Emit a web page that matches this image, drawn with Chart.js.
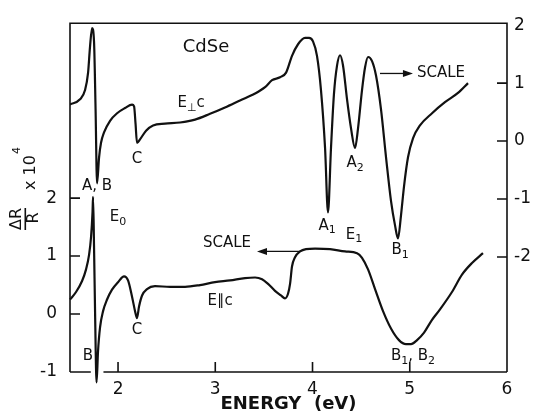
<!DOCTYPE html>
<html>
<head>
<meta charset="utf-8">
<title>CdSe ΔR/R</title>
<script src="https://cdn.jsdelivr.net/npm/chart.js@4.4.1/dist/chart.umd.min.js"></script>
<style>
  html, body { margin: 0; padding: 0; background: #fff; }
  #wrap { width: 533px; height: 417px; }
</style>
</head>
<body>
<div id="wrap"><canvas id="chart" width="533" height="417"></canvas></div>
<script>
'use strict';

// ─── Data: E ⊥ c spectrum (right-hand scale) ─────────────────────────────────
const energyPerp = [1.506, 1.609, 1.661, 1.692, 1.712, 1.733, 1.753, 1.769, 1.784, 1.805,
    1.825, 1.856, 1.918, 1.99, 2.072, 2.144, 2.165, 2.18, 2.195, 2.226,
    2.288, 2.36, 2.483, 2.638, 2.792, 2.946, 3.10, 3.254, 3.409, 3.512,
    3.584, 3.666, 3.728, 3.789, 3.851, 3.923, 3.964, 4.005, 4.046, 4.087,
    4.129, 4.159, 4.19, 4.22, 4.252, 4.283, 4.314, 4.355, 4.396, 4.437,
    4.468, 4.509, 4.54, 4.571, 4.612, 4.653, 4.704, 4.756, 4.807, 4.848,
    4.879, 4.91, 4.941, 4.982, 5.034, 5.105, 5.229, 5.362, 5.496, 5.599];
const signalPerp = [0.63, 0.72, 0.88, 1.18, 1.63, 1.95, 1.72, 0.55, -0.73, -0.28,
    -0.03, 0.15, 0.35, 0.48, 0.57, 0.63, 0.60, 0.30, -0.03, 0.03,
    0.18, 0.27, 0.30, 0.32, 0.37, 0.47, 0.58, 0.70, 0.82, 0.93,
    1.05, 1.10, 1.18, 1.47, 1.67, 1.78, 1.78, 1.72, 1.47, 0.88,
    -0.12, -1.23, -0.12, 0.80, 1.30, 1.48, 1.30, 0.72, 0.22, -0.12,
    0.22, 0.88, 1.27, 1.45, 1.38, 1.13, 0.55, -0.28, -1.03, -1.45,
    -1.68, -1.28, -0.78, -0.28, 0.05, 0.27, 0.48, 0.67, 0.83, 1.00];

// ─── Data: E ∥ c spectrum (left-hand scale) ──────────────────────────────────
const energyPar = [1.506, 1.568, 1.63, 1.671, 1.702, 1.722, 1.738, 1.743, 1.753, 1.764,
    1.779, 1.794, 1.815, 1.846, 1.887, 1.938, 2.0, 2.062, 2.103, 2.144,
    2.175, 2.195, 2.216, 2.247, 2.298, 2.38, 2.535, 2.689, 2.843, 2.997,
    3.152, 3.306, 3.409, 3.481, 3.543, 3.614, 3.676, 3.717, 3.748, 3.769,
    3.789, 3.82, 3.872, 3.933, 4.026, 4.18, 4.334, 4.458, 4.509, 4.571,
    4.643, 4.725, 4.807, 4.889, 4.961, 5.013, 5.075, 5.147, 5.229, 5.311,
    5.434, 5.537, 5.64, 5.753];
const signalPar = [0.25, 0.38, 0.57, 0.77, 1.02, 1.32, 1.77, 2.02, 1.18, 0.02,
    -1.18, -0.65, -0.23, 0.05, 0.25, 0.42, 0.55, 0.65, 0.58, 0.30,
    0.05, -0.07, 0.13, 0.32, 0.43, 0.48, 0.47, 0.47, 0.50, 0.55,
    0.58, 0.62, 0.63, 0.60, 0.52, 0.40, 0.32, 0.27, 0.35, 0.52,
    0.82, 0.98, 1.08, 1.12, 1.13, 1.12, 1.08, 1.05, 0.97, 0.77,
    0.43, 0.05, -0.25, -0.45, -0.52, -0.52, -0.45, -0.32, -0.10, 0.08,
    0.38, 0.68, 0.88, 1.05];

// ─── Ticks ───────────────────────────────────────────────────────────────────
const energyTicks = [2, 3, 4, 5, 6];
const leftTicks = [-1, 0, 1, 2];
const rightTicks = [2, 1, 0, -1, -2];

// ─── Layout / styles ─────────────────────────────────────────────────────────
const INK = '#111';
const FONT = "'DejaVu Sans', sans-serif";
const BOX = { left: 70, right: 533 - 507, top: 11, bottom: 417 - 372 };
const X_RANGE = [1.506, 6.0];
const LEFT_RANGE = [-1, 5.017];
const RIGHT_RANGE = [-3.983, 2.033];
const AXIS_BREAK = [1.72, 1.85];   // gap in the energy axis where the B dip crosses it
const TICK = 10;

// Annotations, positioned in (eV, left-scale) units. "_" subscripts the next char.
const LABELS = [
    { t: 'CdSe', x: 2.905, y: 4.6, size: 18 },
    { t: 'E_⊥c', x: 2.751, y: 3.63 },
    { t: 'C', x: 2.195, y: 2.68 },
    { t: 'A, B', x: 1.784, y: 2.2 },
    { t: 'E_0', x: 2.0, y: 1.67 },
    { t: 'SCALE', x: 3.121, y: 1.22 },
    { t: 'E∥c', x: 3.049, y: 0.23 },
    { t: 'C', x: 2.195, y: -0.27 },
    { t: 'B', x: 1.691, y: -0.73 },
    { t: 'A_1', x: 4.149, y: 1.52 },
    { t: 'E_1', x: 4.427, y: 1.37 },
    { t: 'B_1', x: 4.90, y: 1.1 },
    { t: 'A_2', x: 4.437, y: 2.6 },
    { t: 'SCALE', x: 5.321, y: 4.15 },
    { t: 'B_1, B_2', x: 5.033, y: -0.73 },
];
const ARROWS = [
    { from: [4.694, 4.15], to: [5.033, 4.15] },
    { from: [3.871, 1.08], to: [3.429, 1.08] },
];

const toPoints = (xs, ys) => xs.map((x, i) => ({ x, y: ys[i] }));

// ─── Drawing helpers ─────────────────────────────────────────────────────────
function drawRich(ctx, text, cx, cy, size) {
    const parts = [];
    for (let i = 0; i < text.length; i++) {
        if (text[i] === '_') { parts.push({ c: text[i + 1], sub: true }); i++; }
        else parts.push({ c: text[i], sub: false });
    }
    const subSize = Math.round(size * 0.72);
    const widthOf = p => { ctx.font = `${p.sub ? subSize : size}px ${FONT}`; return ctx.measureText(p.c).width; };
    const total = parts.reduce((s, p) => s + widthOf(p), 0);
    let x = cx - total / 2;
    ctx.textAlign = 'left';
    ctx.textBaseline = 'middle';
    parts.forEach(p => {
        const w = widthOf(p);
        ctx.fillText(p.c, x, p.sub ? cy + size * 0.3 : cy);
        x += w;
    });
}

function drawArrow(ctx, x1, y1, x2, y2) {
    const dir = Math.sign(x2 - x1);
    ctx.beginPath();
    ctx.moveTo(x1, y1);
    ctx.lineTo(x2 - dir * 8, y2);
    ctx.stroke();
    ctx.beginPath();
    ctx.moveTo(x2, y2);
    ctx.lineTo(x2 - dir * 10, y2 - 3.5);
    ctx.lineTo(x2 - dir * 10, y2 + 3.5);
    ctx.closePath();
    ctx.fill();
}

const figurePlugin = {
    id: 'figure',
    afterDraw(chart) {
        const { ctx, chartArea: a, scales } = chart;
        const sx = scales.x, yL = scales.yL, yR = scales.yR;
        ctx.save();
        ctx.strokeStyle = INK;
        ctx.fillStyle = INK;
        ctx.lineWidth = 1.6;

        // frame, with the break in the energy axis
        ctx.beginPath();
        ctx.moveTo(a.left, a.bottom);
        ctx.lineTo(a.left, a.top);
        ctx.lineTo(a.right, a.top);
        ctx.lineTo(a.right, a.bottom);
        ctx.moveTo(a.left, a.bottom);
        ctx.lineTo(sx.getPixelForValue(AXIS_BREAK[0]), a.bottom);
        ctx.moveTo(sx.getPixelForValue(AXIS_BREAK[1]), a.bottom);
        ctx.lineTo(a.right, a.bottom);

        // inward tick marks
        energyTicks.filter(v => v < X_RANGE[1]).forEach(v => {
            const px = sx.getPixelForValue(v);
            ctx.moveTo(px, a.bottom);
            ctx.lineTo(px, a.bottom - TICK);
        });
        leftTicks.filter(v => v > LEFT_RANGE[0]).forEach(v => {
            const py = yL.getPixelForValue(v);
            ctx.moveTo(a.left, py);
            ctx.lineTo(a.left + TICK, py);
        });
        rightTicks.filter(v => v < RIGHT_RANGE[1] - 0.1).forEach(v => {
            const py = yR.getPixelForValue(v);
            ctx.moveTo(a.right, py);
            ctx.lineTo(a.right - TICK, py);
        });
        ctx.stroke();

        // arrows next to the SCALE notes
        ctx.lineWidth = 1.3;
        ARROWS.forEach(ar => drawArrow(ctx,
            sx.getPixelForValue(ar.from[0]), yL.getPixelForValue(ar.from[1]),
            sx.getPixelForValue(ar.to[0]), yL.getPixelForValue(ar.to[1])));

        // annotations
        LABELS.forEach(l => drawRich(ctx, l.t, sx.getPixelForValue(l.x), yL.getPixelForValue(l.y), l.size || 15));

        // vertical axis label: ΔR/R x 10^4
        ctx.translate(25, 219);
        ctx.rotate(-Math.PI / 2);
        ctx.textBaseline = 'alphabetic';
        ctx.textAlign = 'center';
        ctx.font = `16px ${FONT}`;
        ctx.fillText('ΔR', 0, -4);
        ctx.fillRect(-11, -0.5, 22, 1.6);
        ctx.fillText('R', 1, 13);
        ctx.textAlign = 'left';
        ctx.fillText('x 10', 29, 10);
        ctx.font = `11px ${FONT}`;
        ctx.fillText('4', 65, -5);
        ctx.restore();
    },
};

// ─── Chart ───────────────────────────────────────────────────────────────────
const tickFont = { family: FONT, size: 17 };
const setTicks = list => scale => { scale.ticks = list.map(value => ({ value })); };

new Chart(document.getElementById('chart'), {
    type: 'line',
    data: {
        datasets: [
            {
                label: 'E ⊥ c',
                data: toPoints(energyPerp, signalPerp),
                yAxisID: 'yR',
            },
            {
                label: 'E ∥ c',
                data: toPoints(energyPar, signalPar),
                yAxisID: 'yL',
                clip: false,
            },
        ],
    },
    options: {
        responsive: false,
        animation: false,
        devicePixelRatio: 1,
        layout: { padding: { top: BOX.top, left: 0, right: 0, bottom: 0 } },
        elements: {
            line: { borderColor: INK, borderWidth: 2.2, cubicInterpolationMode: 'monotone', fill: false },
            point: { radius: 0 },
        },
        plugins: { legend: { display: false }, tooltip: { enabled: false } },
        scales: {
            x: {
                type: 'linear',
                position: 'bottom',
                min: X_RANGE[0], max: X_RANGE[1],
                grid: { display: false, drawTicks: false },
                border: { display: false },
                afterBuildTicks: setTicks(energyTicks),
                afterFit: s => { s.height = BOX.bottom; },
                ticks: { font: tickFont, color: INK, padding: 7, maxRotation: 0 },
                title: {
                    display: true, text: 'ENERGY  (eV)', color: INK,
                    font: { family: FONT, size: 18, weight: 'bold' }, padding: { top: 0, bottom: 2 },
                },
            },
            yL: {
                type: 'linear',
                position: 'left',
                min: LEFT_RANGE[0], max: LEFT_RANGE[1],
                grid: { display: false, drawTicks: false },
                border: { display: false },
                afterBuildTicks: setTicks(leftTicks),
                afterFit: s => { s.width = BOX.left; },
                ticks: { font: tickFont, color: INK, padding: 13 },
            },
            yR: {
                type: 'linear',
                position: 'right',
                min: RIGHT_RANGE[0], max: RIGHT_RANGE[1],
                grid: { display: false, drawTicks: false },
                border: { display: false },
                afterBuildTicks: setTicks(rightTicks),
                afterFit: s => { s.width = BOX.right; },
                ticks: { font: tickFont, color: INK, padding: 7 },
            },
        },
    },
    plugins: [figurePlugin],
});
</script>
</body>
</html>
